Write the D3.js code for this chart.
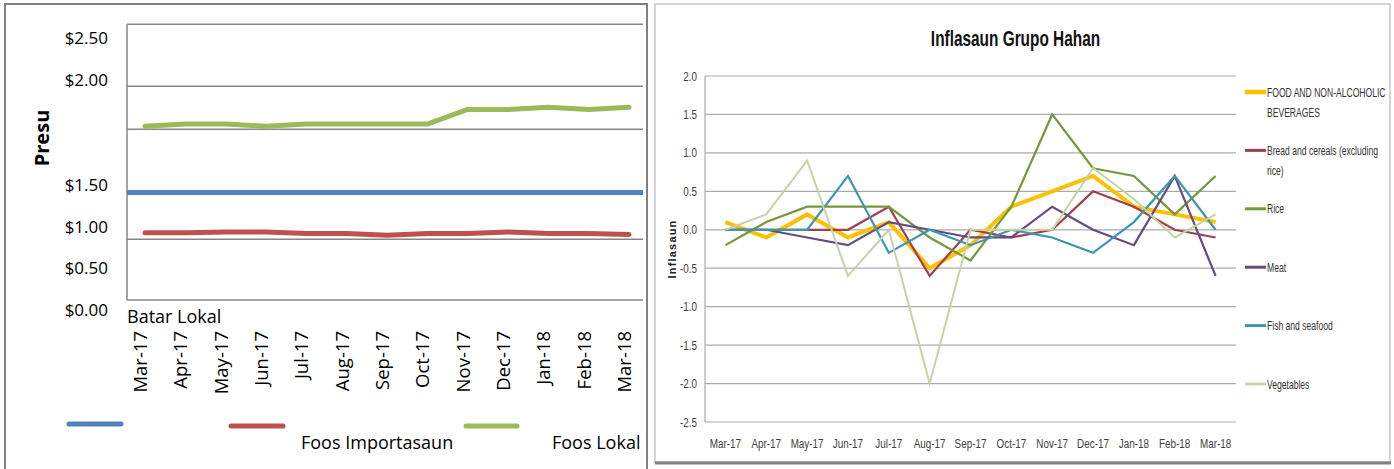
<!DOCTYPE html>
<html><head><meta charset="utf-8">
<script src="https://cdn.jsdelivr.net/npm/d3@7"></script>
<style>
html,body{margin:0;padding:0;background:#fff;}
svg{display:block;}
.lf{font-family:"Open Sans","Liberation Sans",sans-serif;}
.nr{font-family:"Liberation Sans","Arial",sans-serif;}
</style></head>
<body>
<svg id="c" width="1394" height="469"></svg>
<script>
// ---------- Left chart data ----------
const months = ["Mar-17","Apr-17","May-17","Jun-17","Jul-17","Aug-17","Sep-17","Oct-17","Nov-17","Dec-17","Jan-18","Feb-18","Mar-18"];
const priceTicks = [0, 0.5, 1.0, 1.5, 2.0, 2.5];
const priceTickLabels = ["$0.00","$0.50","$1.00","$1.50","$2.00","$2.50"];
const priceGrid = [0.12, 0.85, 1.765, 1.97, 2.665];
const batarLokal = [1.41,1.41,1.41,1.41,1.41,1.41,1.41,1.41,1.41,1.41,1.41,1.41,1.41];
const foosImportasaun = [0.93,0.93,0.94,0.94,0.92,0.92,0.90,0.92,0.92,0.94,0.92,0.92,0.91];
const foosLokal = [1.78,1.79,1.79,1.78,1.79,1.79,1.79,1.79,1.86,1.86,1.87,1.86,1.87];
const leftSeriesNames = ["Batar Lokal","Foos Importasaun","Foos Lokal"];

// ---------- Right chart data ----------
const inflTicks = [-2.5,-2.0,-1.5,-1.0,-0.5,0.0,0.5,1.0,1.5,2.0];
const seriesNames = ["FOOD AND NON-ALCOHOLIC BEVERAGES","Bread and cereals (excluding rice)","Rice","Meat","Fish and seafood","Vegetables"];
const legendLines = [["FOOD AND NON-ALCOHOLIC","BEVERAGES"],["Bread and cereals (excluding","rice)"],["Rice"],["Meat"],["Fish and seafood"],["Vegetables"]];
const food = [0.1,-0.1,0.2,-0.1,0.1,-0.5,-0.2,0.3,0.5,0.7,0.3,0.2,0.1];
const bread = [0.0,0.0,0.0,0.0,0.3,-0.6,0.0,-0.1,0.0,0.5,0.3,0.0,-0.1];
const rice = [-0.2,0.1,0.3,0.3,0.3,-0.1,-0.4,0.3,1.5,0.8,0.7,0.2,0.7];
const meat = [0.0,0.0,-0.1,-0.2,0.1,0.0,-0.1,-0.1,0.3,0.0,-0.2,0.7,-0.6];
const fish = [0.0,0.0,0.0,0.7,-0.3,0.0,-0.2,0.0,-0.1,-0.3,0.1,0.7,0.0];
const vegetables = [0.0,0.2,0.9,-0.6,0.0,-2.0,0.0,0.0,0.0,0.8,0.4,-0.1,0.2];

const svg = d3.select("#c");

// horizontally condense a text around its x anchor
function condense(sel, f){
  sel.attr("transform", function(){
    const ax = +this.getAttribute("x");
    return `translate(${ax},0) scale(${f},1) translate(${-ax},0)`;
  });
}

// ================= LEFT PANEL =================
(function(){
  const L = {x0:127, x1:643, px0:145, px1:629};
  svg.append("rect").attr("x",5).attr("y",4).attr("width",642).attr("height",470)
    .attr("fill","#fff").attr("stroke","#808080").attr("stroke-width",2);

  const x = d3.scalePoint().domain(months).range([L.px0, L.px1]);
  const y = d3.scaleLinear().domain(priceTicks).range([310,268,227,185,80,38]);

  const g = svg.append("g");
  g.selectAll(".gl").data(priceGrid).join("line")
    .attr("x1",L.x0).attr("x2",L.x1)
    .attr("y1",d=>y(d)).attr("y2",d=>y(d))
    .attr("stroke","#868686").attr("stroke-width",1.5);
  g.append("line").attr("x1",L.x0).attr("x2",L.x0)
    .attr("y1",y(d3.max(priceGrid))).attr("y2",y(d3.min(priceGrid)))
    .attr("stroke","#868686").attr("stroke-width",1.5);

  g.selectAll(".yl").data(priceTicks).join("text")
    .attr("class","lf").attr("x",108).attr("y",d=>y(d))
    .attr("dy","0.35em").attr("text-anchor","end")
    .attr("font-size",17).attr("fill","#000")
    .text((d,i)=>priceTickLabels[i]);

  g.append("text").attr("class","lf")
    .attr("transform","translate(49,138) rotate(-90)")
    .attr("text-anchor","middle").attr("font-size",20).attr("font-weight","bold")
    .text("Presu");

  g.selectAll(".xl").data(months).join("text")
    .attr("class","lf")
    .attr("transform",d=>`translate(${x(d)+2},331) rotate(-90)`)
    .attr("text-anchor","end").attr("font-size",18.5).attr("fill","#000")
    .text(d=>d);

  g.append("text").attr("class","lf").attr("x",L.x0).attr("y",323)
    .attr("font-size",18).text(leftSeriesNames[0]);

  const line = d3.line().x((d,i)=>x(months[i])).y(d=>y(d));
  g.append("line")
    .attr("x1",L.x0).attr("x2",L.x1)
    .attr("y1",y(batarLokal[0])).attr("y2",y(batarLokal[batarLokal.length-1]))
    .attr("stroke","#4F81BD").attr("stroke-width",5);
  g.append("path").datum(foosImportasaun).attr("d",line)
    .attr("fill","none").attr("stroke","#C0504D").attr("stroke-width",5)
    .attr("stroke-linecap","round").attr("stroke-linejoin","round");
  g.append("path").datum(foosLokal).attr("d",line)
    .attr("fill","none").attr("stroke","#9BBB59").attr("stroke-width",5)
    .attr("stroke-linecap","round").attr("stroke-linejoin","round");

  const legColors = ["#4F81BD","#C0504D","#9BBB59"];
  const legSw = [[69,121,424],[231,283,426],[466,517,426]];
  const legTxt = [null,[301,449],[552,449]];
  legColors.forEach((c,i)=>{
    g.append("line").attr("x1",legSw[i][0]).attr("x2",legSw[i][1])
      .attr("y1",legSw[i][2]).attr("y2",legSw[i][2])
      .attr("stroke",c).attr("stroke-width",5).attr("stroke-linecap","round");
    if(legTxt[i]) g.append("text").attr("class","lf").attr("x",legTxt[i][0]).attr("y",legTxt[i][1])
      .attr("font-size",18).text(leftSeriesNames[i]);
  });
})();

// ================= RIGHT PANEL =================
(function(){
  svg.append("rect").attr("x",655).attr("y",4).attr("width",735).attr("height",458)
    .attr("fill","#fff").attr("stroke","#C8C8C8").attr("stroke-width",1.5);
  svg.append("line").attr("x1",655).attr("x2",1391).attr("y1",463).attr("y2",463)
    .attr("stroke","#808080").attr("stroke-width",3);

  const P = {x0:705, x1:1236};
  const x = d3.scaleBand().domain(months).range([P.x0,P.x1]);
  const y = d3.scaleLinear().domain([-2.5,2.0]).range([422,76]);
  const g = svg.append("g");

  g.selectAll(".gl").data(inflTicks).join("line")
    .attr("x1",P.x0).attr("x2",P.x1).attr("y1",d=>y(d)).attr("y2",d=>y(d))
    .attr("stroke","#ABABAB").attr("stroke-width",1.2);
  g.append("line").attr("x1",P.x0).attr("x2",P.x0).attr("y1",y(2.0)).attr("y2",y(-2.5))
    .attr("stroke","#ABABAB").attr("stroke-width",1.2);

  g.selectAll(".yl").data(inflTicks).join("text")
    .attr("class","nr").attr("x",697).attr("y",d=>y(d)).attr("dy","0.35em")
    .attr("text-anchor","end").attr("font-size",13).attr("fill","#404040")
    .text(d=>d.toFixed(1))
    .call(condense,0.76);

  g.selectAll(".xl").data(months).join("text")
    .attr("class","nr").attr("x",d=>x(d)+x.bandwidth()/2).attr("y",443).attr("dy","0.35em")
    .attr("text-anchor","middle").attr("font-size",13).attr("fill","#404040")
    .text(d=>d)
    .call(condense,0.76);

  g.append("text").attr("class","nr").attr("x",(P.x0+P.x1)/2+45).attr("y",38).attr("dy","0.35em")
    .attr("text-anchor","middle").attr("font-size",22).attr("font-weight","bold").attr("fill","#111")
    .text("Inflasaun Grupo Hahan")
    .call(condense,0.7);

  g.append("text")
    .attr("transform",`translate(676,${y(-0.25)}) rotate(-90)`)
    .attr("text-anchor","middle").attr("font-family","Liberation Sans, sans-serif")
    .attr("font-size",11).attr("font-weight","bold").attr("letter-spacing",1.2).attr("fill","#222")
    .text("Inflasaun");

  const data = [food,bread,rice,meat,fish,vegetables];
  const colors = ["#FFC000","#A0404E","#77973D","#634C84","#3C95B2","#C4D4A4"];
  const widths = [4,2.2,2.2,2.2,2.2,2];
  const line = d3.line().x((d,i)=>x(months[i])+x.bandwidth()/2).y(d=>y(d));
  data.forEach((s,k)=>{
    g.append("path").datum(s).attr("d",line).attr("fill","none")
      .attr("stroke",colors[k]).attr("stroke-width",widths[k]).attr("stroke-linejoin","miter");
  });

  const ly = d3.scalePoint().domain(seriesNames).range([92,384]);
  seriesNames.forEach((n,k)=>{
    const yy = ly(n);
    g.append("line").attr("x1",1245).attr("x2",1266).attr("y1",yy).attr("y2",yy)
      .attr("stroke",colors[k]).attr("stroke-width",widths[k]+(k===0?0.5:0.8));
    legendLines[k].forEach((t,j)=>{
      g.append("text").attr("class","nr").attr("x",1267).attr("y",yy+j*20).attr("dy","0.35em")
        .attr("font-size",13).attr("fill","#333")
        .text(t)
        .call(condense,0.66);
    });
  });
})();
</script>
</body></html>
